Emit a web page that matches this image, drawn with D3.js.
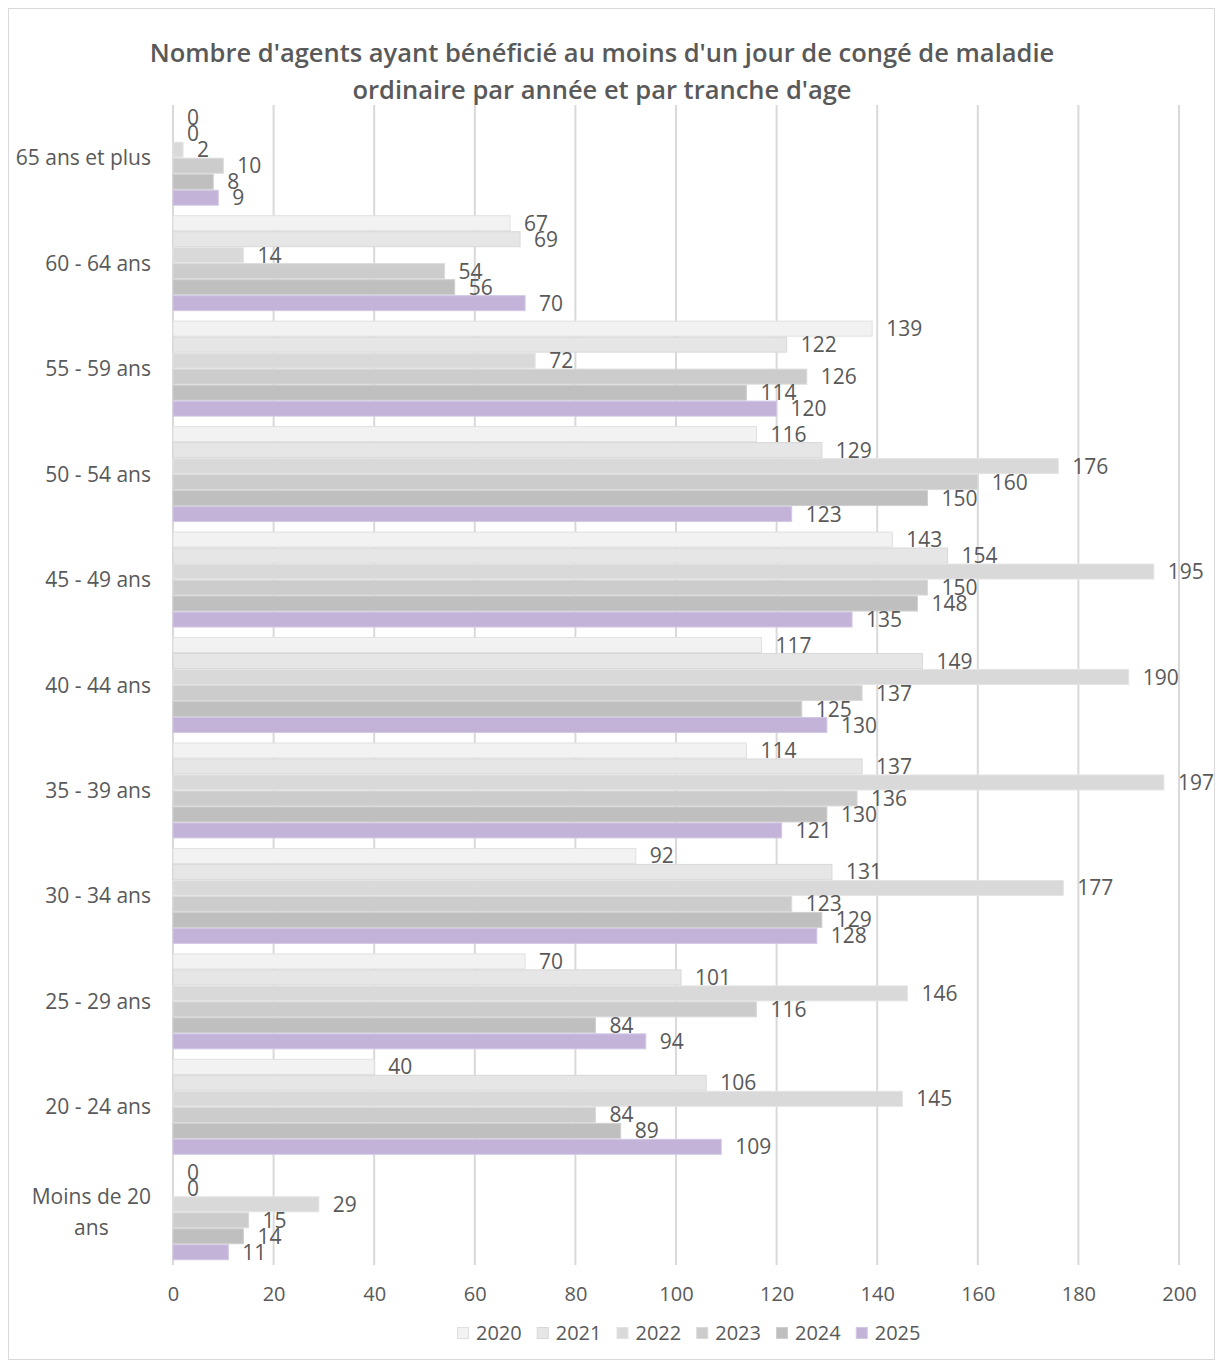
<!DOCTYPE html>
<html><head><meta charset="utf-8">
<script src="https://cdn.jsdelivr.net/npm/d3@7"></script>
<style>body{margin:0;background:#fff}svg{display:block}text{font-family:"Open Sans",sans-serif;fill:#595959}</style>
</head><body><svg id="c" width="1217" height="1364"></svg>
<script>
const titleLines = ["Nombre d'agents ayant bénéficié au moins d'un jour de congé de maladie", "ordinaire par année et par tranche d'age"];
const categories = ["65 ans et plus","60 - 64 ans","55 - 59 ans","50 - 54 ans","45 - 49 ans","40 - 44 ans","35 - 39 ans","30 - 34 ans","25 - 29 ans","20 - 24 ans","Moins de 20 ans"];
const years = ["2020","2021","2022","2023","2024","2025"];
const v2020 = [0,67,139,116,143,117,114,92,70,40,0];
const v2021 = [0,69,122,129,154,149,137,131,101,106,0];
const v2022 = [2,14,72,176,195,190,197,177,146,145,29];
const v2023 = [10,54,126,160,150,137,136,123,116,84,15];
const v2024 = [8,56,114,150,148,125,130,129,84,89,14];
const v2025 = [9,70,120,123,135,130,121,128,94,109,11];
const xTicks = [0,20,40,60,80,100,120,140,160,180,200];
const series = [v2020,v2021,v2022,v2023,v2024,v2025];
const colors = ["#f2f2f2","#e6e6e6","#d9d9d9","#cccccc","#bfbfbf","#c3b3d9"];
const strokes = ["#e0e0e0","#d8d8d8","#e4e4e4","#dadada","#d0d0d0","#d3c8e4"];

const svg = d3.select("#c");
svg.append("rect").attr("x",8.5).attr("y",8.5).attr("width",1206).attr("height",1351).attr("fill","#fff").attr("stroke","#d9d9d9");

const x = d3.scaleLinear().domain([0,200]).range([173,1179]);
const y = d3.scaleBand().domain(categories).range([105,1265]).paddingInner(0.09).paddingOuter(0.045);
const yi = d3.scaleBand().domain(years).range([0,y.bandwidth()]);

// title
svg.append("g").selectAll("text").data(titleLines).join("text")
  .attr("x",602).attr("y",(d,i)=>62+i*37).attr("text-anchor","middle")
  .style("font-size","25.5px").style("font-weight","600")
  .text(d=>d);

// grid
svg.append("g").selectAll("line").data(xTicks).join("line")
  .attr("x1",d=>x(d)).attr("x2",d=>x(d)).attr("y1",105).attr("y2",1265)
  .attr("stroke","#d9d9d9").attr("stroke-width",2);

// x axis labels
const xa = svg.append("g").attr("transform","translate(0,1265)")
  .call(d3.axisBottom(x).tickValues(xTicks).tickSize(0).tickPadding(22));
xa.select(".domain").remove();
xa.selectAll("text").style("font-size","20px").style("fill","#595959").style("font-family","'Open Sans',sans-serif");

// bars
const gs = svg.append("g").selectAll("g").data(years).join("g");
gs.each(function(yr,si){
  const g = d3.select(this);
  g.selectAll("rect").data(categories).join("rect")
    .attr("x",x(0)).attr("y",c=>y(c)+yi(yr)+0.5)
    .attr("width",(c,ci)=>Math.max(0,x(series[si][ci])-x(0)))
    .attr("height",yi.bandwidth()-1)
    .attr("fill",colors[si]).attr("stroke",strokes[si]).attr("stroke-width",1);
});
// value labels
gs.each(function(yr,si){
  d3.select(this).selectAll("text").data(categories).join("text")
    .attr("x",(c,ci)=>x(series[si][ci])+14)
    .attr("y",c=>y(c)+yi(yr)+yi.bandwidth()/2)
    .attr("dy","0.36em").style("font-size","21px")
    .text((c,ci)=>series[si][ci]);
});

// category labels
const cl = svg.append("g").selectAll("text").data(categories).join("text")
  .style("font-size","21px").attr("text-anchor","end")
  .attr("x",151).attr("y",c=>y(c)+y.bandwidth()/2).attr("dy","0.36em");
cl.each(function(c){
  const t = d3.select(this);
  if(c==="Moins de 20 ans"){
    t.attr("text-anchor","middle").attr("dy",null);
    const lines=["Moins de 20","ans"];
    t.selectAll("tspan").data(lines).join("tspan").text(d=>d);
    const w = this.querySelector("tspan").getComputedTextLength();
    const cx = 151 - w/2;
    const cy = y(c)+y.bandwidth()/2;
    t.selectAll("tspan").attr("x",cx).attr("y",(d,i)=>cy-15+i*31+7);
  } else t.text(c);
});

// legend
const lg = svg.append("g");
let lx = 457;
years.forEach((yr,i)=>{
  lg.append("rect").attr("x",lx+0.5).attr("y",1327.5).attr("width",11).attr("height",11)
    .attr("fill",colors[i]).attr("stroke",strokes[i]);
  const t = lg.append("text").attr("x",lx+19).attr("y",1333).attr("dy","0.36em").style("font-size","20px").text(yr);
  lx += 19 + t.node().getComputedTextLength() + 15;
});
</script></body></html>
